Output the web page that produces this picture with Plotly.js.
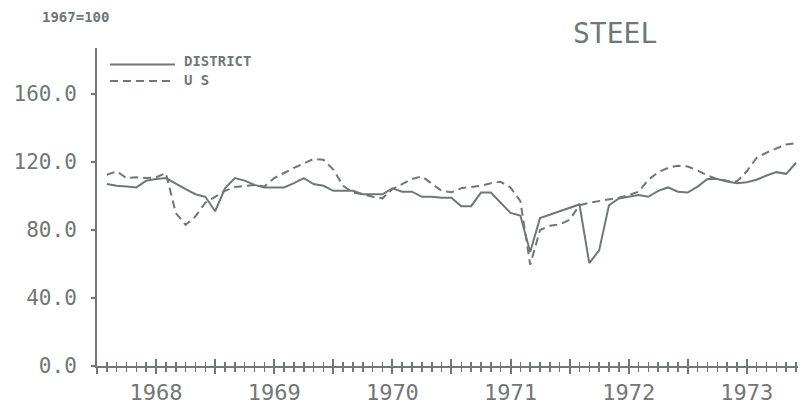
<!DOCTYPE html>
<html>
<head>
<meta charset="utf-8">
<script src="https://cdn.plot.ly/plotly-3.0.1.min.js"></script>
<style>html,body{margin:0;padding:0;background:#fff}#chart{width:803px;height:405px}</style>
</head>
<body>
<div id="chart"></div>
<script>
// Monthly index, 1967=100; series runs Feb 1968 .. Dec 1973
const yearLabels = ['1968','1969','1970','1971','1972','1973'];
const seriesNames = ['DISTRICT', 'U S'];
const firstMonth = '1968-02';
const district = [
  107,106,105.5,105,109,110,110.5,107,104,101,99.5,91,
  104.5,110.5,109,106.5,105,105,105,107.5,110.5,107,106,103,
  103,103,101,101,101,104.5,102.5,102.5,99.5,99.5,99,99,
  94,94,102,102,96,90,88.5,67,87,89,91,93,
  95,60.5,68,94.5,98.5,99.5,100.5,99.5,103,105,102.5,102,
  105.5,110,110,108.5,107.5,108,109.5,112,114,113,119.5
];
const us = [
  112.5,114.5,110.5,111,110.5,111,113.5,90,83,88,96,99.5,
  103,105.3,106,106.5,105.5,110.5,113.5,116.5,119,121.8,121.3,115.5,
  106,102,101,99.5,98.6,104,107,110,111.5,107,103,102.2,
  104.5,105.3,106,107.5,108.3,105,97,59.5,80,82.5,83.3,86,
  94.5,96,97,98,99,100.5,102.5,109.5,114,116.5,117.8,117.3,
  115,112,110,109,108.5,114.5,122.5,125.5,128,130.3,131
];
const yTicks = [0,40,80,120,160];
const yTickText = ['0.0','40.0','80.0','120.0','160.0'];

// month offset from Jan 1968
const p = firstMonth.split('-');
const start = (parseInt(p[0]) - 1968) * 12 + (parseInt(p[1]) - 1);
const xs = district.map((_, i) => start + i);

const grey = '#6f7877';
const mono = 'DejaVu Sans Mono, monospace';
const dashStyle = '8px,5px';

const xTickVals = [], xTickText = [];
for (let y = 0; y <= yearLabels.length; y++) {
  xTickVals.push(y * 12); xTickText.push('');
  if (y < yearLabels.length) { xTickVals.push(y * 12 + 6); xTickText.push(yearLabels[y]); }
}
const xRange = [0, 71.2];

const traces = [
  {x: xs, y: district, name: seriesNames[0], type: 'scatter', mode: 'lines',
   line: {color: grey, width: 2}, xaxis: 'x', yaxis: 'y'},
  {x: xs, y: us, name: seriesNames[1], type: 'scatter', mode: 'lines',
   line: {color: grey, width: 2, dash: dashStyle}, xaxis: 'x2', yaxis: 'y'}
];

// legend key (drawn as layout decoration, plotter style)
const keyX0 = 0.0185, keyX1 = 0.1113, keyTextX = 0.1227;
const keyRows = [0.948, 0.896];
const textRows = [0.958, 0.900];

const layout = {
  width: 803, height: 405,
  margin: {l: 97, r: 5, t: 48, b: 39},
  paper_bgcolor: '#fff', plot_bgcolor: '#fff',
  showlegend: false,
  xaxis: {range: xRange, showgrid: false, zeroline: false, showline: true,
    linecolor: grey, linewidth: 2, ticks: 'outside', ticklen: 6, tickwidth: 2, tickcolor: grey,
    tickmode: 'array', tickvals: xTickVals, ticktext: xTickText,
    tickfont: {family: mono, size: 22, color: grey}, ticklabelstandoff: 0,
    minor: {dtick: 1, tick0: 0, ticks: 'outside', ticklen: 4, tickwidth: 1.5, tickcolor: grey}},
  xaxis2: {range: xRange, overlaying: 'x', anchor: 'y', side: 'bottom',
    showgrid: false, zeroline: false, showline: false, showticklabels: false,
    ticks: 'inside', ticklen: 7, tickwidth: 2, tickcolor: grey,
    tickmode: 'array', tickvals: xTickVals,
    minor: {dtick: 1, tick0: 0, ticks: 'inside', ticklen: 4, tickwidth: 1.5, tickcolor: grey}},
  yaxis: {range: [0, 187], showgrid: false, zeroline: false, showline: true,
    linecolor: grey, linewidth: 2, ticks: 'outside', ticklen: 4, tickwidth: 2, tickcolor: grey,
    tickmode: 'array', tickvals: yTicks, ticktext: yTickText,
    tickfont: {family: mono, size: 21, color: grey}, ticklabelstandoff: 10},
  shapes: [
    {type: 'line', xref: 'paper', yref: 'paper', x0: keyX0, x1: keyX1, y0: keyRows[0], y1: keyRows[0],
     line: {color: grey, width: 2}},
    {type: 'line', xref: 'paper', yref: 'paper', x0: keyX0, x1: keyX1, y0: keyRows[1], y1: keyRows[1],
     line: {color: grey, width: 2, dash: dashStyle}}
  ],
  annotations: [
    {text: seriesNames[0], xref: 'paper', yref: 'paper', x: keyTextX, y: textRows[0],
     xanchor: 'left', yanchor: 'middle', showarrow: false, borderpad: 0,
     font: {family: mono, size: 14, color: grey, weight: 'bold'}},
    {text: seriesNames[1], xref: 'paper', yref: 'paper', x: keyTextX, y: textRows[1],
     xanchor: 'left', yanchor: 'middle', showarrow: false, borderpad: 0,
     font: {family: mono, size: 14, color: grey, weight: 'bold'}},
    {text: '1967=100', xref: 'paper', yref: 'paper', x: -0.03, y: 1.099,
     xanchor: 'center', yanchor: 'middle', showarrow: false,
     font: {family: mono, size: 14, color: grey, weight: 'bold'}},
    {text: 'STEEL', xref: 'paper', yref: 'paper', x: 0.739, y: 1.047,
     xanchor: 'center', yanchor: 'middle', showarrow: false,
     font: {family: mono, size: 28, color: grey}}
  ]
};

Plotly.newPlot('chart', traces, layout, {staticPlot: true, displayModeBar: false});
</script>
</body>
</html>
